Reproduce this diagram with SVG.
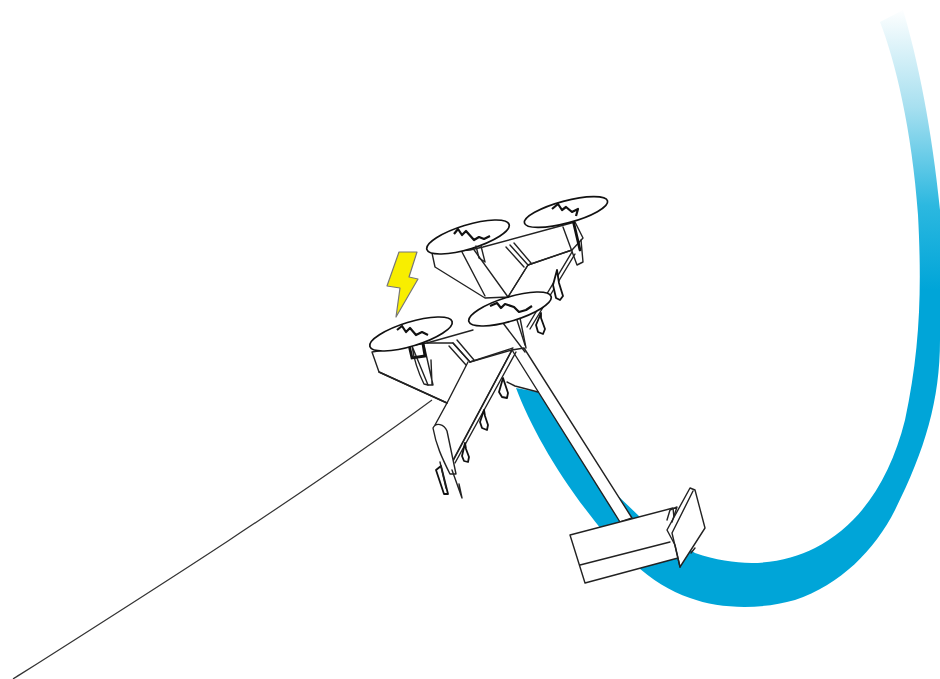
<svg xmlns="http://www.w3.org/2000/svg" width="940" height="679" viewBox="0 0 940 679">
<defs>
<linearGradient id="fade" gradientUnits="userSpaceOnUse" x1="0" y1="8" x2="0" y2="290">
<stop offset="0" stop-color="#ffffff"/>
<stop offset="0.35" stop-color="#a8e0f0"/>
<stop offset="0.7" stop-color="#2cb8e0"/>
<stop offset="1" stop-color="#00a5d8"/>
</linearGradient>
</defs>
<style>
.l{fill:none;stroke:#222;stroke-width:1.4;stroke-linejoin:round;stroke-linecap:round}
.f{fill:#fff;stroke:#222;stroke-width:1.4;stroke-linejoin:round}
.r{fill:#fff;stroke:#111;stroke-width:1.7}
.z{fill:none;stroke:#111;stroke-width:2.2;stroke-linejoin:round}
.d{fill:none;stroke:#111;stroke-width:2.8;stroke-linecap:round}
.n{fill:#fff;stroke:#111;stroke-width:1.8;stroke-linejoin:round}
</style>
<rect width="940" height="679" fill="#fff"/>
<g id="flight-path">
<path fill="url(#fade)" d="M880 22C895 60 912 130 918 215C922 290 920 350 905 420C890 480 860 525 815 548C785 563 745 570 695 553L640 517L615 493L538 392L516 388C530 425 555 470 590 515C615 548 650 585 690 598C720 609 760 610 795 600C840 585 875 550 895 510C925 450 940 400 940 340L940 210C932 130 918 60 903 10Z"/>
</g>
<g id="tether">
<path fill="none" stroke="#333" stroke-width="1.2" d="M13 679C150 592 300 497 432 400"/>
</g>
<g id="bolt">
<path fill="#f8ee00" stroke="#777" stroke-width="1.2" stroke-linejoin="round" d="M399 252L417 252L409 277L418 279L396 317L400 288L387 286Z"/>
</g>
<g id="tail-boom">
<path class="f" d="M512 350L524 348L632 518L620 522Z"/>
</g>
<g id="tailplane">
<path class="f" d="M570 535L673 508L678 558L585 583Z"/>
<path class="l" d="M580 565L670 542"/>
</g>
<g id="fin">
<path class="f" d="M667 530L690 488L695 490L705 528L680 567L675 545Z"/>
<path class="l" d="M672 533L680 567M672 533L693 491"/>
<path class="l" d="M667 520L670 510L677 507L672 522"/>
<path class="l" d="M691 553L695 548"/>
</g>
<g id="aft-wing">
<path class="f" d="M432 253L435 267L485 298L508 297L528 265L572 250L583 238L575 222L483 247L470 250Z"/>
<path class="l" d="M462 252L485 296M472 247L508 297"/>
<path class="l" d="M508 297L528 265"/>
<path class="l" d="M510 245L528 265M506 247L524 267M514 243L531 263"/>
<path class="l" d="M528 265L572 250"/>
<path class="l" d="M563 227L577 265L583 262L581 240"/>
<path class="d" d="M573 220L580 250"/>
<path class="l" d="M572 252L527 327M575 254L530 329"/>
<path class="n" d="M557 270L553 285L556 298L560 300L563 296L559 283Z"/>
<path class="n" d="M541 313L536 325L538 332L543 334L545 329L541 318Z"/>
</g>
<g id="front-wing">
<path class="f" d="M372 352L379 372L447 403L435 425L452 463L512 350L470 362L453 343L427 343Z"/>
<path class="l" d="M379 372L447 403"/>
<path class="l" d="M468 362L447 403"/>
<path class="l" d="M427 343L473 330"/>
<path class="l" d="M453 343L470 362M457 340L474 360M449 346L466 365"/>
<path class="l" d="M470 362L513 348"/>
<path class="f" d="M412 346L428 385L424 384C418 372 414 360 412 346Z"/>
<path class="l" d="M424 345L433 385L428 385M432 384L431 360"/>
<path class="d" d="M409 345L412 358L425 356L423 344"/>
<path class="l" d="M512 350L452 462M516 352L455 463"/>
<path class="l" d="M503 323L525 352M517 320L525 345"/>
<path class="l" d="M520 318L526 348"/>
<path class="l" d="M507 382L515 386L538 392"/>
<path class="n" d="M503 378L499 392L502 397L507 398L508 393L505 384Z"/>
<path class="n" d="M484 410L480 422L482 428L487 430L488 425L485 416Z"/>
<path class="n" d="M465 443L462 456L464 461L468 462L469 457L466 449Z"/>
<path class="f" d="M433 428C436 422 444 424 447 431L456 474L450 474C442 458 436 445 433 428Z"/>
<path class="n" d="M436 470L444 494L448 494L441 466L436 470Z"/>
<path class="l" d="M440 462L446 488"/>
<path class="l" d="M452 470L462 498L459 484"/>
</g>
<g id="rotor-aft-left">
<ellipse class="r" cx="468" cy="237" rx="43" ry="12" transform="rotate(-17 468 237)"/>
<path class="z" d="M454 234L458 229L462 235L466 231L474 240L479 237L484 239L490 236"/>
<path class="l" d="M476 246L479 258L485 262L481 246"/>
</g>
<g id="rotor-aft-right">
<ellipse class="r" cx="566" cy="212" rx="43" ry="11" transform="rotate(-15 566 212)"/>
<path class="z" d="M552 209L558 204L562 210L566 207L572 212L578 209L576 216"/>
</g>
<g id="rotor-front-left">
<ellipse class="r" cx="411" cy="334" rx="43" ry="12" transform="rotate(-17 411 334)"/>
<path class="z" d="M397 330L402 326L406 332L410 328L416 335L422 332L428 335"/>
</g>
<g id="rotor-front-right">
<ellipse class="r" cx="510" cy="309" rx="43" ry="12" transform="rotate(-17 510 309)"/>
<path class="z" d="M490 306L497 303L501 308L505 304L514 307L519 312L526 310L532 306"/>
</g>
</svg>
